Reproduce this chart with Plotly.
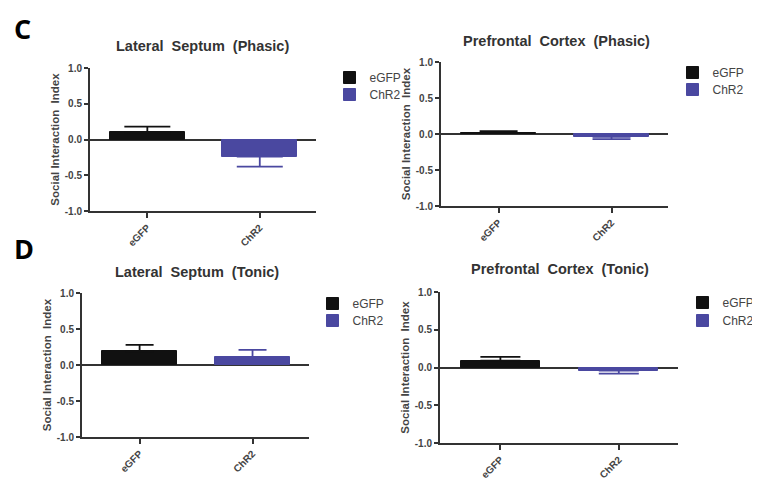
import plotly.graph_objects as go

groups = ["eGFP", "ChR2"]
titles = ["Lateral  Septum  (Phasic)", "Prefrontal  Cortex  (Phasic)",
          "Lateral  Septum  (Tonic)", "Prefrontal  Cortex  (Tonic)"]
egfp_mean = [0.10, 0.02, 0.19, 0.09]
egfp_err = [0.08, 0.02, 0.09, 0.05]
chr2_mean = [-0.24, -0.04, 0.11, -0.04]
chr2_err = [0.14, 0.03, 0.10, 0.04]
yticks = [1.0, 0.5, 0.0, -0.5, -1.0]
ytick_text = ["1.0", "0.5", "0.0", "-0.5", "-1.0"]

colors = {"eGFP": "#111111", "ChR2": "#4a48a0"}

# page is rendered with the default 8px body margin -> figure spans (8,8)-(760,480)
OFF = 8
W, H = 760 - OFF, 480 - OFF


def px(xp):
    return (xp - OFF) / W


def py(yp):
    return 1 - (yp - OFF) / H


# panel boxes in window pixels (left, right, top, bottom)
boxes = [(90, 316, 68, 211), (441, 668, 62, 206), (82, 309, 293, 437), (440, 678, 292, 443)]
cap_w = [23, 19, 14, 20]
title_pos = [(203, 46), (556, 41), (197, 272), (560, 269)]
# legend swatch centre (x) and item centres (y) in window pixels
legend_cx = [350, 693, 333, 703]
legend_cy = [(77, 94), (72, 89), (303, 320), (302, 320)]

fig = go.Figure()
font_fam = "Liberation Sans, Arial"

for i in range(4):
    ax = "" if i == 0 else str(i + 1)
    series = (("eGFP", egfp_mean[i], egfp_err[i]), ("ChR2", chr2_mean[i], chr2_err[i]))
    for j, (name, mean, err) in enumerate(series):
        k = 2 * i + j + 1
        leg = "legend" if k == 1 else f"legend{k}"
        up = err if mean >= 0 else 0
        down = err if mean < 0 else 0
        fig.add_trace(go.Bar(
            x=[name], y=[mean], name=name, width=0.67,
            marker=dict(color=colors[name], line=dict(color=colors[name], width=1)),
            error_y=dict(type="data", symmetric=False, array=[up], arrayminus=[down],
                         color=colors[name], thickness=1.8, width=cap_w[i]),
            xaxis="x" + ax, yaxis="y" + ax, legend=leg,
        ))
        fig.update_layout(**{leg: dict(
            x=px(legend_cx[i] - 20.5), y=py(legend_cy[i][j] - 14),
            xanchor="left", yanchor="top",
            bgcolor="rgba(0,0,0,0)", itemwidth=30,
            font=dict(family=font_fam, size=12, color="#444"),
        )})
    l, r, t, b = boxes[i]
    fig.update_layout(**{
        "xaxis" + ax: dict(
            domain=[px(l), px(r)], anchor="y" + ax, type="category",
            categoryorder="array", categoryarray=groups, automargin=False,
            range=[-0.51, 1.5], showline=True, linecolor="#333", linewidth=2,
            ticks="outside", ticklen=5, tickwidth=1.5, tickcolor="#333",
            tickangle=-45, showgrid=False, fixedrange=True,
            tickfont=dict(family=font_fam, size=10, color="#444", weight="bold"),
        ),
        "yaxis" + ax: dict(
            domain=[py(b), py(t)], anchor="x" + ax, range=[-1, 1], automargin=False,
            tickvals=yticks, ticktext=ytick_text,
            showline=True, linecolor="#333", linewidth=2,
            ticks="outside", ticklen=4, tickwidth=1.5, tickcolor="#333",
            showgrid=False, zeroline=True, zerolinecolor="#333", zerolinewidth=1.5,
            tickfont=dict(family=font_fam, size=10, color="#444", weight="bold"),
            title=dict(text="Social Interaction  Index", standoff=3,
                       font=dict(family=font_fam, size=11.5, color="#444", weight="bold")),
        ),
    })
    fig.add_annotation(
        text=titles[i], x=px(title_pos[i][0]), y=py(title_pos[i][1]),
        xref="paper", yref="paper", showarrow=False, xanchor="center", yanchor="middle",
        font=dict(family=font_fam, size=14.5, color="#333", weight="bold"),
    )

for lab, yy in (("C", 8), ("D", 228)):
    fig.add_annotation(
        text=lab, x=px(12), y=py(yy), xref="paper", yref="paper", showarrow=False,
        xanchor="left", yanchor="top",
        font=dict(family="Open Sans, DejaVu Sans", size=27, color="#000", weight="bold"),
    )

fig.update_layout(
    width=W, height=H, margin=dict(l=0, r=0, t=0, b=0, autoexpand=False),
    paper_bgcolor="white", plot_bgcolor="white",
    barmode="overlay", bargap=0, showlegend=True,
)

fig.write_html("out.html")
